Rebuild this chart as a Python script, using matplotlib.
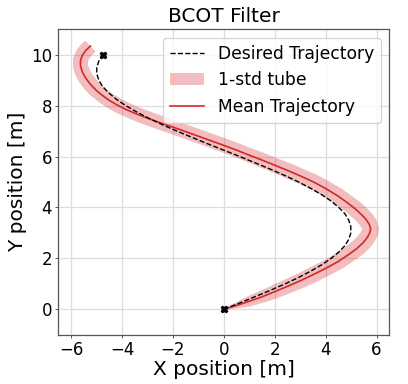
import numpy as np
import matplotlib
matplotlib.use("Agg")
import matplotlib.pyplot as plt
from matplotlib.patches import Patch
from matplotlib.lines import Line2D

# Desired trajectory
des_y = [0.0, 0.25, 0.5, 0.75, 1.0, 1.25, 1.5, 1.75, 2.0, 2.25, 2.5, 2.75, 3.0, 3.25,
         3.5, 3.75, 4.0, 4.25, 4.5, 4.75, 5.0, 5.25, 5.5, 5.75, 6.0, 6.25, 6.5, 6.75,
         7.0, 7.25, 7.5, 7.75, 8.0, 8.25, 8.5, 8.75, 9.0, 9.25, 9.5, 9.75, 10.0]
des_x = [0.00, 0.63, 1.24, 1.84, 2.41, 2.94, 3.42, 3.85, 4.22, 4.52, 4.76, 4.91, 4.99, 4.99,
         4.91, 4.76, 4.52, 4.22, 3.85, 3.42, 2.94, 2.41, 1.84, 1.24, 0.63, 0.00, -0.63, -1.24,
         -1.84, -2.41, -2.94, -3.42, -3.85, -4.22, -4.52, -4.76, -4.91, -4.99, -4.99, -4.91, -4.76]

# Mean trajectory
mean_x = [0.00, 0.50, 0.96, 1.50, 2.00, 2.50, 3.05, 3.55, 4.01, 4.50, 4.89, 5.22, 5.48,
          5.65, 5.74, 5.77, 5.72, 5.60, 5.41, 5.17, 4.89, 4.47, 4.01, 3.53, 3.05, 2.52,
          2.00, 1.48, 0.96, 0.48, 0.00, -0.50, -1.00, -1.50, -2.00, -2.50, -3.00, -3.42,
          -3.82, -4.18, -4.50, -4.78, -5.03, -5.25, -5.43, -5.56, -5.63, -5.63, -5.55,
          -5.42, -5.24]
mean_y = [0.00, 0.15, 0.30, 0.49, 0.69, 0.90, 1.14, 1.38, 1.61, 1.88, 2.14, 2.38, 2.62,
          2.84, 3.02, 3.16, 3.33, 3.52, 3.72, 3.94, 4.16, 4.46, 4.74, 5.00, 5.22, 5.45,
          5.66, 5.87, 6.07, 6.26, 6.44, 6.62, 6.80, 6.98, 7.16, 7.33, 7.51, 7.67,
          7.84, 8.02, 8.21, 8.41, 8.62, 8.85, 9.09, 9.33, 9.56, 9.78, 9.99,
          10.17, 10.34]
# 1-std half width of the tube
std = [0.02, 0.12, 0.20, 0.24, 0.27, 0.29, 0.30, 0.31, 0.31, 0.32, 0.32, 0.33, 0.33,
       0.33, 0.33, 0.33, 0.33, 0.33, 0.33, 0.33, 0.32, 0.32, 0.31, 0.31, 0.30, 0.30,
       0.29, 0.29, 0.28, 0.28, 0.28, 0.28, 0.28, 0.28, 0.28, 0.28, 0.28, 0.28,
       0.28, 0.29, 0.29, 0.29, 0.30, 0.30, 0.30, 0.30, 0.30, 0.30, 0.30,
       0.30, 0.30]

mx = np.array(mean_x); my = np.array(mean_y); sd = np.array(std)
dx = np.gradient(mx); dy = np.gradient(my)
nrm = np.hypot(dx, dy)
nx = -dy / nrm; ny = dx / nrm
upper_x = mx + sd * nx; upper_y = my + sd * ny
lower_x = mx - sd * nx; lower_y = my - sd * ny
poly_x = np.concatenate([upper_x, lower_x[::-1]])
poly_y = np.concatenate([upper_y, lower_y[::-1]])

fig = plt.figure(figsize=(4.08, 3.84), dpi=100)
ax = fig.add_axes([0.143, 0.128, 0.811, 0.796])

red = '#d62728'
ax.fill(poly_x, poly_y, color=red, alpha=0.3, linewidth=0, zorder=2)
ax.plot(mx, my, color=red, lw=1.2, zorder=3)
ax.plot(des_x, des_y, 'k--', lw=1.0, zorder=4)
ax.plot([des_x[0], des_x[-1]], [des_y[0], des_y[-1]], 'kX', ms=5, zorder=5)

ax.set_xlim(-6.5, 6.5)
ax.set_ylim(-1, 11)
ax.set_aspect('equal')
ax.set_xticks([-6, -4, -2, 0, 2, 4, 6])
ax.set_yticks([0, 2, 4, 6, 8, 10])
ax.tick_params(labelsize=12, length=2.5, width=0.7, pad=2, color='#555555')
ax.grid(True, color='#dcdcdc', lw=0.9)
ax.set_axisbelow(True)
for s in ax.spines.values():
    s.set_color('#555555')
    s.set_linewidth(0.9)

ax.set_title('BCOT Filter', fontsize=14.5, pad=5)
ax.set_xlabel('X position [m]', fontsize=14.5, labelpad=1)
ax.set_ylabel('Y position [m]', fontsize=14.5, labelpad=3)

handles = [Line2D([0], [0], color='k', ls='--', lw=1.0),
           Patch(facecolor=red, alpha=0.3, edgecolor='none'),
           Line2D([0], [0], color=red, lw=1.2)]
ax.legend(handles, ['Desired Trajectory', '1-std tube', 'Mean Trajectory'],
          loc='upper right', fontsize=12.3, borderaxespad=0.5)

fig.savefig('out.png', dpi=100)
